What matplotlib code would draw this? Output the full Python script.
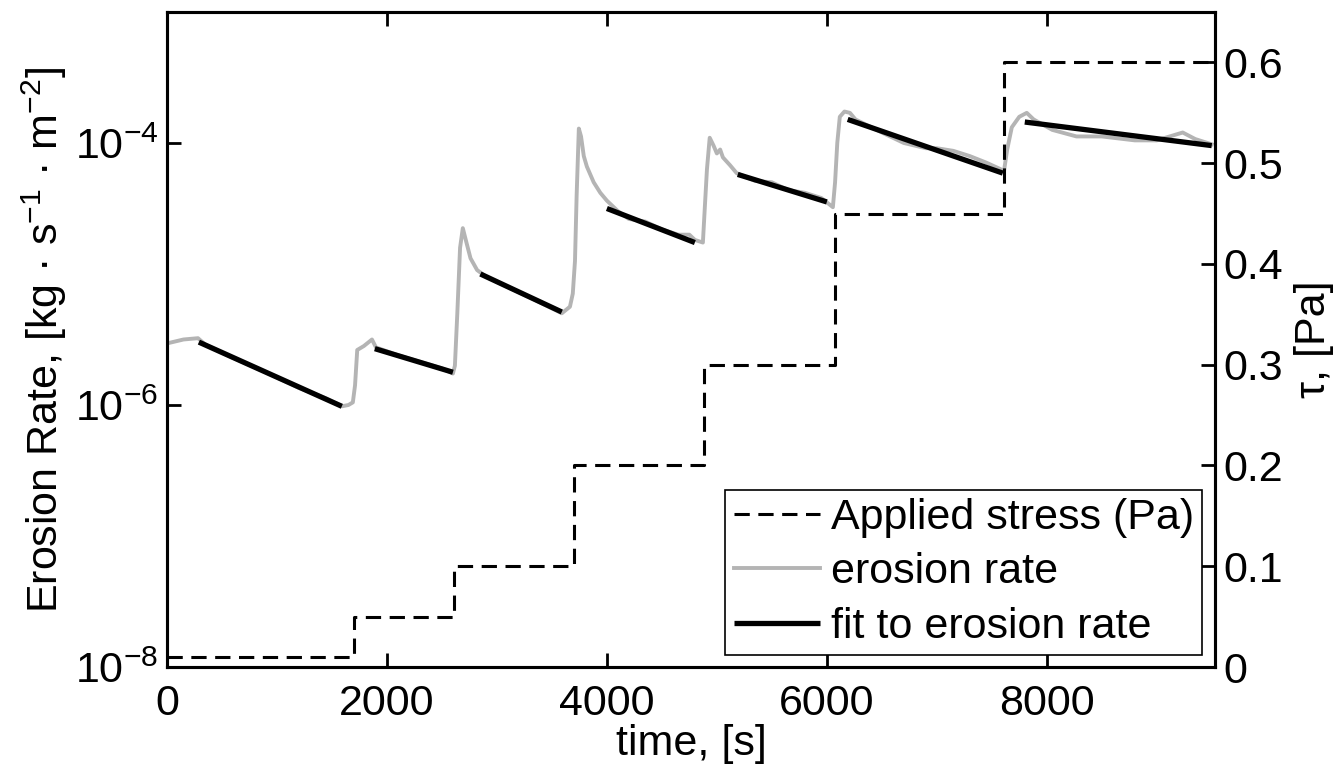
import matplotlib
matplotlib.use("Agg")
import matplotlib.pyplot as plt
from matplotlib.ticker import FixedLocator, NullLocator, FixedFormatter

plt.rcParams['font.family'] = ['Liberation Sans', 'DejaVu Sans']
plt.rcParams['mathtext.fontset'] = 'custom'
plt.rcParams['mathtext.rm'] = 'Liberation Sans'
plt.rcParams['mathtext.it'] = 'Liberation Sans:italic'
plt.rcParams['mathtext.bf'] = 'Liberation Sans:bold'

# ---------------- DATA ----------------
# applied stress steps (Pa), step starts at each time
stress_time = [0, 1700, 2610, 3700, 4880, 6070, 7610, 9500]
stress_pa = [0.01, 0.05, 0.1, 0.2, 0.3, 0.45, 0.6, 0.6]

# measured erosion rate, log10 of kg s^-1 m^-2
erosion_time = [0, 150, 282, 350, 600, 900, 1200, 1450, 1590, 1650, 1690,
                1710, 1730, 1790, 1864, 1900, 2100, 2300, 2500, 2600, 2618,
                2640, 2665, 2690, 2720, 2760, 2820, 2900, 3100, 3350, 3590,
                3664, 3690, 3710, 3725, 3745, 3765, 3790, 3818, 3880, 3940,
                4000, 4100, 4200, 4350, 4500, 4650, 4750, 4800, 4873, 4890,
                4910, 4935, 4970, 5000, 5030, 5055, 5120, 5180, 5350, 5500,
                5650, 5800, 5950, 6055, 6075, 6095, 6118, 6160, 6210, 6260,
                6500, 6700, 6900, 7000, 7150, 7300, 7450, 7580, 7610, 7640,
                7682, 7750, 7818, 7880, 8050, 8270, 8500, 8800, 9000, 9236,
                9350, 9500]
erosion_log = [-5.53, -5.50, -5.49, -5.54, -5.64, -5.75, -5.87, -5.95, -6.01, -6.00, -5.98,
               -5.85, -5.58, -5.55, -5.50, -5.56, -5.62, -5.67, -5.72, -5.76, -5.70,
               -5.30, -4.80, -4.65, -4.75, -4.88, -4.97, -5.02, -5.10, -5.20, -5.30,
               -5.25, -5.15, -4.90, -4.40, -3.89, -3.95, -4.10, -4.18, -4.30, -4.38,
               -4.44, -4.52, -4.58, -4.60, -4.66, -4.70, -4.70, -4.74, -4.76, -4.50,
               -4.20, -3.96, -4.02, -4.08, -4.05, -4.11, -4.17, -4.23, -4.29, -4.30,
               -4.36, -4.38, -4.42, -4.49, -4.30, -4.00, -3.80, -3.76, -3.77, -3.82,
               -3.92, -4.00, -4.04, -4.04, -4.06, -4.10, -4.15, -4.20, -4.22, -4.05,
               -3.88, -3.80, -3.77, -3.82, -3.90, -3.95, -3.95, -3.98, -3.98, -3.92,
               -3.97, -4.01]

# exponential fits: start/end time and log10 rate of each segment
fit_t0 = [290, 1890, 2850, 4000, 5190, 6190, 7800]
fit_t1 = [1590, 2600, 3590, 4800, 6000, 7600, 9500]
fit_log0 = [-5.52, -5.57, -5.00, -4.50, -4.24, -3.82, -3.84]
fit_log1 = [-6.01, -5.75, -5.29, -4.76, -4.45, -4.23, -4.02]

x_ticks = [0, 2000, 4000, 6000, 8000]
left_ticks = [1e-8, 1e-6, 1e-4]
left_labels = [r'$\mathregular{10^{-8}}$', r'$\mathregular{10^{-6}}$', r'$\mathregular{10^{-4}}$']
right_ticks = [0, 0.1, 0.2, 0.3, 0.4, 0.5, 0.6]
right_labels = ['0', '0.1', '0.2', '0.3', '0.4', '0.5', '0.6']

FS = 31

# ---------------- PLOT ----------------
fig = plt.figure(figsize=(13.38, 7.68), dpi=100)
ax1 = fig.add_axes([0.1248, 0.1315, 0.7833, 0.8529])
ax2 = ax1.twinx()

erosion = [10 ** v for v in erosion_log]
l_er, = ax1.plot(erosion_time, erosion, color='#b4b4b4', lw=2.8, label='erosion rate')

l_fit = None
for a, b, c, d in zip(fit_t0, fit_t1, fit_log0, fit_log1):
    l_fit, = ax1.plot([a, b], [10 ** c, 10 ** d], color='black', lw=3.8,
                      solid_capstyle='butt', label='fit to erosion rate')

l_st, = ax2.plot(stress_time, stress_pa, color='black', lw=2.2, ls=(0, (5, 2.8)),
                 drawstyle='steps-post', label='Applied stress (Pa)')

ax1.set_yscale('log')
ax1.set_xlim(0, 9530)
ax1.set_ylim(1e-8, 1e-3)
ax2.set_ylim(0, 0.65)

ax1.xaxis.set_major_locator(FixedLocator(x_ticks))
ax1.yaxis.set_major_locator(FixedLocator(left_ticks))
ax1.yaxis.set_major_formatter(FixedFormatter(left_labels))
ax1.yaxis.set_minor_locator(NullLocator())
ax2.yaxis.set_major_locator(FixedLocator(right_ticks))
ax2.yaxis.set_major_formatter(FixedFormatter(right_labels))

ax1.tick_params(axis='x', direction='in', top=True, length=10, width=2,
                labelsize=FS, pad=12)
ax1.tick_params(axis='y', direction='in', right=False, length=10, width=2,
                labelsize=FS, pad=6)
ax2.tick_params(axis='y', direction='in', length=10, width=2, labelsize=FS, pad=6)

for ax in (ax1, ax2):
    for s in ax.spines.values():
        s.set_linewidth(2.2)

ax1.set_xlabel('time, [s]', fontsize=FS, labelpad=0)
ax1.set_ylabel('Erosion Rate, [kg · s$^{-1}$ · m$^{-2}$]', fontsize=FS, labelpad=4)
ax2.set_ylabel('τ, [Pa]', fontsize=FS, labelpad=8)

leg = ax2.legend([l_st, l_er, l_fit],
                 ['Applied stress (Pa)', 'erosion rate', 'fit to erosion rate'],
                 loc='lower right', bbox_to_anchor=(0.988, 0.018), borderaxespad=0,
                 fontsize=FS, fancybox=False, framealpha=1, edgecolor='black',
                 handlelength=2.0, handletextpad=0.25, borderpad=0.2,
                 labelspacing=0.33)
leg.get_frame().set_linewidth(1.2)

fig.savefig('out.png', dpi=100)
